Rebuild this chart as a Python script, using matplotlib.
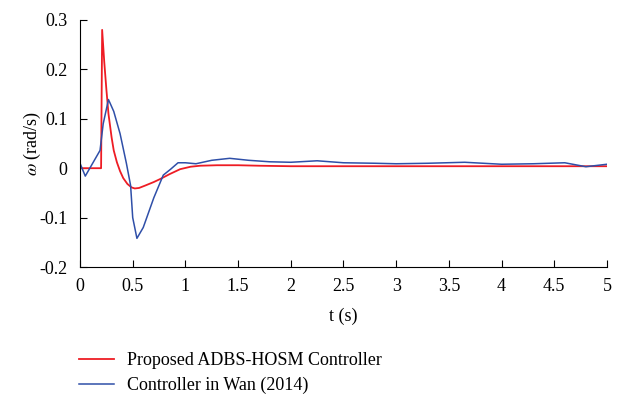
import matplotlib
matplotlib.use("Agg")
import matplotlib.pyplot as plt
from matplotlib.ticker import FuncFormatter

plt.rcParams['font.family'] = ['Liberation Serif', 'DejaVu Serif']
plt.rcParams['mathtext.fontset'] = 'stix'
plt.rcParams['font.size'] = 13

# Proposed ADBS-HOSM controller (red)
t_prop = [0, 0.2, 0.21, 0.23, 0.25, 0.27, 0.3, 0.32, 0.35, 0.38, 0.41, 0.45, 0.49, 0.52,
          0.56, 0.62, 0.7, 0.76, 0.85, 0.95, 1.05, 1.14, 1.3, 1.5, 1.7, 2.0, 3.0, 4.0, 5.0]
w_prop = [0, 0, 0.28, 0.215, 0.16, 0.11, 0.062, 0.036, 0.012, -0.006, -0.02, -0.032,
          -0.039, -0.041, -0.04, -0.035, -0.028, -0.022, -0.012, -0.002, 0.003, 0.005,
          0.006, 0.006, 0.005, 0.004, 0.004, 0.004, 0.004]

# Controller in Wan (2014) (blue)
t_wan = [0, 0.05, 0.19, 0.22, 0.27, 0.32, 0.38, 0.44, 0.48, 0.5, 0.54, 0.6, 0.7, 0.79,
         0.86, 0.93, 1.0, 1.1, 1.25, 1.42, 1.6, 1.8, 2.0, 2.25, 2.5, 2.8, 3.0, 3.3, 3.65,
         4.0, 4.3, 4.6, 4.8, 5.0]
w_wan = [0.01, -0.016, 0.036, 0.09, 0.139, 0.115, 0.07, 0.01, -0.035, -0.1, -0.142,
         -0.12, -0.06, -0.014, -0.002, 0.011, 0.011, 0.009, 0.016, 0.02, 0.016, 0.013,
         0.012, 0.015, 0.011, 0.01, 0.009, 0.01, 0.012, 0.008, 0.009, 0.011, 0.003, 0.008]

fig = plt.figure(figsize=(6.32, 4.0), dpi=100)
ax = fig.add_axes([0.1266, 0.3325, 0.8338, 0.6175])

ax.plot(t_prop, w_prop, color='#ee1c24', lw=1.3, label='Proposed ADBS-HOSM Controller')
ax.plot(t_wan, w_wan, color='#2f4fa8', lw=1.1, label='Controller in Wan (2014)')

ax.set_xlim(0, 5)
ax.set_ylim(-0.2, 0.3)
ax.set_xticks([0, 0.5, 1, 1.5, 2, 2.5, 3, 3.5, 4, 4.5, 5])
ax.set_yticks([-0.2, -0.1, 0, 0.1, 0.2, 0.3])
ax.xaxis.set_major_formatter(FuncFormatter(lambda v, p: '%g' % v))
ax.yaxis.set_major_formatter(FuncFormatter(lambda v, p: '%g' % round(v, 2)))
ax.tick_params(direction='in', length=5, width=0.8, labelsize=13)
ax.tick_params(axis='x', pad=8)
ax.tick_params(axis='y', pad=9)
ax.spines['top'].set_visible(False)
ax.spines['right'].set_visible(False)

ax.set_xlabel('t (s)', labelpad=9)
ax.set_ylabel(r'$\omega$ (rad/s)', labelpad=-3)

fig.legend(loc='upper left', bbox_to_anchor=(0.100, 0.16), frameon=False,
           handlelength=1.9, handletextpad=0.75, labelspacing=0.42, fontsize=13)

fig.savefig('out.png', dpi=100)
